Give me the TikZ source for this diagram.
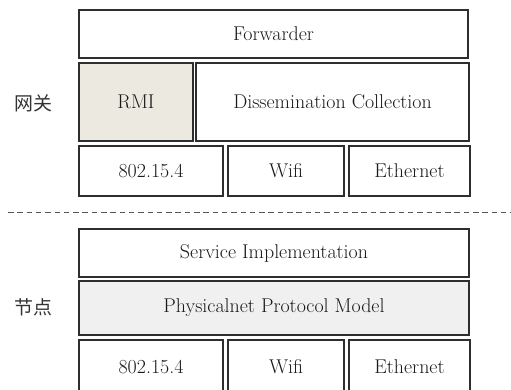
\documentclass[tikz,border=0pt]{standalone}
\usepackage{fontspec}
\newfontfamily\cjk{Noto Sans CJK SC}
\definecolor{edge}{HTML}{2E2E2E}
\definecolor{rmifill}{HTML}{ECEAE0}
\definecolor{physfill}{HTML}{F0F0F0}
\definecolor{dashcol}{HTML}{555555}
\begin{document}
\begin{tikzpicture}[x=1bp,y=-1bp,
  layer/.style={draw=edge, line width=1.2bp, inner sep=0pt, outer sep=0pt,
    font=\fontsize{20}{24}\selectfont, text=black!90},
  side/.style={font=\cjk\fontsize{19}{22}\selectfont, text=black!80, inner sep=0pt}]
\useasboundingbox (0,0) rectangle (511,389);
\clip (0,0) rectangle (511,389);
% gateway
\node[layer, minimum width=389bp, minimum height=48bp] (fwd) at (273.5,34) {Forwarder};
\node[layer, fill=rmifill, minimum width=114bp, minimum height=78bp] (rmi) at (136,102) {RMI};
\node[layer, minimum width=273bp, minimum height=78bp] (dis) at (332.5,102) {Dissemination Collection};
\node[layer, minimum width=144bp, minimum height=50bp] (g1) at (151,171) {802.15.4};
\node[layer, minimum width=116bp, minimum height=50bp] (g2) at (286,171) {Wifi};
\node[layer, minimum width=121bp, minimum height=50bp] (g3) at (409.5,171) {Ethernet};
\node[side] (gw) at (33,103) {网关};
% separator
\coordinate (dl) at (8,212);
\coordinate (dr) at (511,212);
\draw[dashcol, line width=1bp, dash pattern=on 5.5bp off 3.8bp] (dl) -- (dr);
% node
\node[layer, minimum width=390bp, minimum height=48bp] (svc) at (274,253) {Service Implementation};
\node[layer, fill=physfill, minimum width=390bp, minimum height=54bp] (phy) at (274,308) {Physicalnet Protocol Model};
\node[layer, minimum width=144bp, minimum height=54bp] (n1) at (151,367) {802.15.4};
\node[layer, minimum width=116bp, minimum height=54bp] (n2) at (286,367) {Wifi};
\node[layer, minimum width=121bp, minimum height=54bp] (n3) at (409.5,367) {Ethernet};
\node[side] (nd) at (33,307) {节点};
\end{tikzpicture}
\end{document}
